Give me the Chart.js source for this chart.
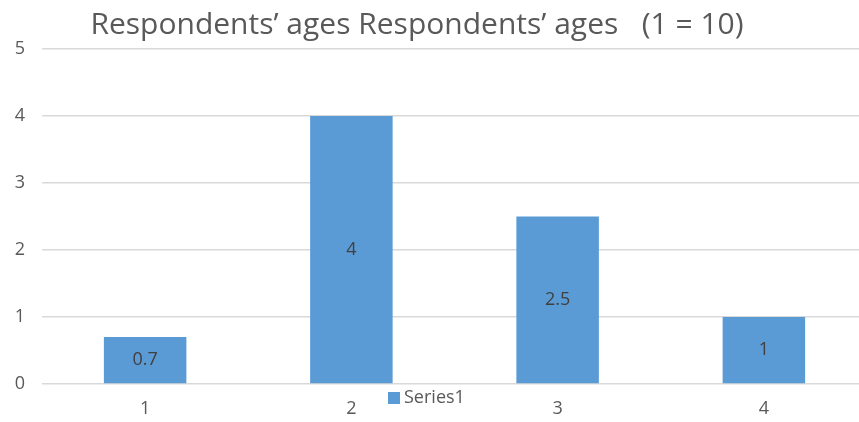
<!DOCTYPE html>
<html>
<head>
<meta charset="utf-8">
<script src="https://cdn.jsdelivr.net/npm/chart.js@4"></script>
<style>
  html, body { margin: 0; padding: 0; overflow: hidden; background: #fff; }
  #wrap { width: 867px; height: 422px; }
</style>
</head>
<body>
<div id="wrap"><canvas id="myChart" width="867" height="422"></canvas></div>
<script>
// datos
const categorias = ['1', '2', '3', '4'];
const valores = [0.7, 4, 2.5, 1];
const etiquetaSerie = 'Series1';
const tituloTexto = 'Respondents\u2019 ages Respondents\u2019 ages   (1 = 10)';
const yTicks = [0, 1, 2, 3, 4, 5];

const gris = '#595959';
const fuente = "'Open Sans', 'Liberation Sans', sans-serif";

// titulo, etiquetas y leyenda dibujadas a mano
const extras = {
  id: 'extras',
  afterDatasetsDraw(chart) {
    const c = chart.ctx;
    const meta = chart.getDatasetMeta(0);
    c.save();
    c.textAlign = 'center';
    c.textBaseline = 'middle';
    c.fillStyle = '#404040';
    c.font = '18px ' + fuente;
    meta.data.forEach((bar, i) => {
      c.fillText(String(valores[i]), bar.x, (bar.y + bar.base) / 2);
    });

    // titulo
    c.fillStyle = gris;
    c.font = '30px ' + fuente;
    c.fillText(tituloTexto, 417, 25);

    // leyenda
    c.fillStyle = '#5B9BD5';
    c.fillRect(388, 392, 12, 12);
    c.fillStyle = gris;
    c.font = '18px ' + fuente;
    c.textAlign = 'left';
    c.fillText(etiquetaSerie, 404, 398);
    c.restore();
  }
};

const ctx = document.getElementById('myChart');
new Chart(ctx, {
  type: 'bar',
  data: {
    labels: categorias,
    datasets: [{
      label: etiquetaSerie,
      data: valores,
      backgroundColor: '#5B9BD5',
      barPercentage: 0.4,
      categoryPercentage: 1
    }]
  },
  options: {
    responsive: false,
    animation: false,
    layout: { padding: { top: 49, left: 11, right: 0, bottom: 3 } },
    plugins: {
      legend: { display: false },
      title: { display: false },
      tooltip: { enabled: false }
    },
    scales: {
      x: {
        afterFit: (axis) => { axis.height = 35; },
        grid: { display: false, drawTicks: false },
        border: { display: false },
        ticks: { color: gris, font: { size: 18, family: fuente }, padding: 14 }
      },
      y: {
        min: 0,
        max: 5,
        afterFit: (axis) => { axis.width = 31; },
        afterBuildTicks: (axis) => { axis.ticks = yTicks.map(v => ({ value: v })); },
        grid: { color: '#d9d9d9', lineWidth: 1.5, drawTicks: false },
        border: { display: false },
        ticks: { color: gris, font: { size: 18, family: fuente }, padding: 17 }
      }
    }
  },
  plugins: [extras]
});
</script>
</body>
</html>
